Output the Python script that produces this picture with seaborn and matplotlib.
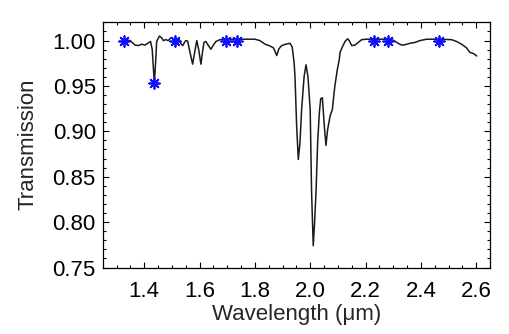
import numpy as np
import pandas as pd
import matplotlib
matplotlib.use("Agg")
import matplotlib.pyplot as plt
from matplotlib.ticker import MultipleLocator
import seaborn as sns

# transmission spectrum
wavelength = [1.328, 1.349, 1.367, 1.379, 1.391, 1.403, 1.415, 1.423, 1.429, 1.4365,
              1.441, 1.445, 1.455, 1.463, 1.469, 1.478, 1.487, 1.496, 1.512, 1.525,
              1.532, 1.539, 1.550, 1.557, 1.5655, 1.575, 1.584, 1.590, 1.597, 1.605,
              1.611, 1.616, 1.623, 1.632, 1.641, 1.650, 1.659, 1.674, 1.6945, 1.734,
              1.758, 1.800, 1.818, 1.837, 1.855, 1.867, 1.873, 1.879, 1.887, 1.897,
              1.912, 1.927, 1.935, 1.942, 1.945, 1.951, 1.957, 1.963, 1.969, 1.978,
              1.985, 1.992, 2.000, 2.005, 2.011, 2.016, 2.021, 2.027, 2.033, 2.038,
              2.044, 2.051, 2.057, 2.063, 2.072, 2.080, 2.089, 2.098, 2.105, 2.108,
              2.117, 2.126, 2.135, 2.141, 2.150, 2.162, 2.174, 2.186, 2.204, 2.229,
              2.280, 2.300, 2.318, 2.331, 2.343, 2.361, 2.379, 2.397, 2.421, 2.465,
              2.511, 2.529, 2.547, 2.565, 2.577, 2.592, 2.602]
transmission = [1.001, 1.000, 0.995, 0.9945, 0.996, 0.995, 0.9975, 0.999, 0.990, 0.953,
                0.975, 0.999, 1.005, 1.003, 1.000, 1.001, 1.000, 1.003, 1.0015, 1.002,
                0.997, 0.9945, 1.000, 0.9995, 0.987, 0.974, 0.990, 1.000, 0.990, 0.974,
                0.988, 0.998, 0.999, 0.9945, 0.9905, 0.995, 0.999, 1.001, 1.0015, 1.0015,
                1.0015, 1.0015, 1.000, 0.996, 0.994, 0.992, 0.988, 0.9835, 0.991, 0.9945,
                0.996, 0.997, 0.993, 0.975, 0.9605, 0.906, 0.869, 0.8875, 0.924, 0.9605,
                0.9733, 0.960, 0.924, 0.833, 0.774, 0.800, 0.833, 0.888, 0.920, 0.936,
                0.937, 0.906, 0.8845, 0.902, 0.917, 0.924, 0.9496, 0.968, 0.979, 0.987,
                0.9935, 0.999, 1.002, 1.000, 0.9945, 0.995, 0.998, 1.001, 1.0015, 1.0015,
                1.0015, 1.0005, 0.997, 0.995, 0.9955, 0.997, 0.998, 1.000, 1.0015, 1.0015,
                1.001, 0.999, 0.996, 0.992, 0.987, 0.9854, 0.983]

# continuum points marked with blue asterisks
star_wl = [1.328, 1.4365, 1.512, 1.6945, 1.734, 2.229, 2.280, 2.465]
star_tr = [1.0, 0.953, 1.0, 1.0, 1.0, 1.0, 1.0, 1.0]

spec = pd.DataFrame({"wavelength": wavelength, "transmission": transmission})
stars = pd.DataFrame({"wavelength": star_wl, "transmission": star_tr})

sns.set_style("ticks")
plt.rcParams["font.family"] = ["Liberation Sans", "DejaVu Sans"]

fig = plt.figure(figsize=(5.09, 3.34), dpi=100)
ax = fig.add_axes([0.2018, 0.1991, 0.7609, 0.7365])

sns.lineplot(data=spec, x="wavelength", y="transmission", ax=ax,
             color="#1a1a1a", linewidth=1.1, sort=False)
sns.scatterplot(data=stars, x="wavelength", y="transmission", ax=ax,
                marker=(8, 2, 0), color="#1010ff", s=60, linewidth=1.3, zorder=3)

ax.set_xlim(1.25, 2.65)
ax.set_ylim(0.75, 1.021)
ax.xaxis.set_major_locator(MultipleLocator(0.2))
ax.xaxis.set_minor_locator(MultipleLocator(0.05))
ax.yaxis.set_major_locator(MultipleLocator(0.05))
ax.yaxis.set_minor_locator(MultipleLocator(0.01))
ax.xaxis.set_major_formatter(matplotlib.ticker.FormatStrFormatter("%.1f"))
ax.yaxis.set_major_formatter(matplotlib.ticker.FormatStrFormatter("%.2f"))

ax.tick_params(which="both", direction="in", top=True, right=True, colors="black")
ax.tick_params(which="major", length=4.3, width=0.8, labelsize=16)
ax.tick_params(which="minor", length=2.2, width=0.8)
ax.tick_params(axis="x", which="major", pad=10)
ax.tick_params(axis="y", which="major", pad=5)
for s in ax.spines.values():
    s.set_linewidth(0.9)
    s.set_color("black")

ax.set_xlabel("Wavelength (μm)", fontsize=16, labelpad=1)
ax.set_ylabel("Transmission", fontsize=16, labelpad=10)

fig.savefig("out.png", dpi=100)
